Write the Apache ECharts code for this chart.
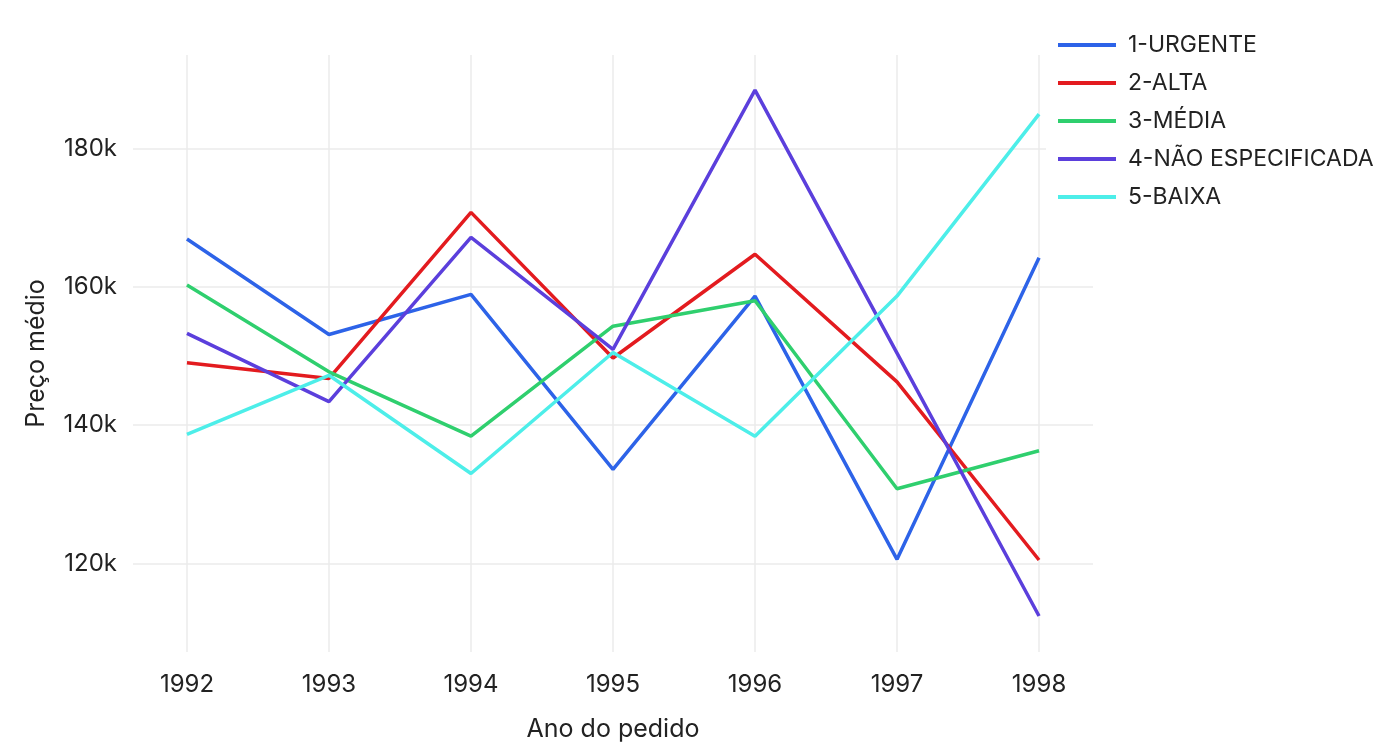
<!DOCTYPE html>
<html>
<head>
<meta charset="utf-8">
<script src="https://cdn.jsdelivr.net/npm/echarts@6/dist/echarts.min.js"></script>
<style>
  html, body { margin: 0; padding: 0; background: #fff; }
  #chart { width: 1384px; height: 752px; }
</style>
</head>
<body>
<div id="chart"></div>
<script>
const years = [1992, 1993, 1994, 1995, 1996, 1997, 1998];
const yTicks = [120000, 140000, 160000, 180000];
const seriesNames = ['1-URGENTE', '2-ALTA', '3-MÉDIA', '4-NÃO ESPECIFICADA', '5-BAIXA'];
const urgente = [166900, 153100, 158900, 133600, 158650, 120600, 164200];
const alta = [149000, 146750, 170750, 149700, 164700, 146250, 120500];
const media = [160250, 147700, 138400, 154300, 157970, 130800, 136300];
const naoEspecificada = [153250, 143400, 167130, 150940, 188430, 150400, 112400];
const baixa = [138650, 147200, 133000, 150500, 138400, 158650, 184960];
const seriesValues = [urgente, alta, media, naoEspecificada, baixa];
const colors = ['#2D63E8', '#E31B1F', '#2FCF6E', '#5B3FDC', '#4DEEE9'];

const chart = echarts.init(document.getElementById('chart'));
const font = 'Inter, "Noto Sans", sans-serif';

chart.setOption({
  animation: false,
  color: colors,
  grid: { left: 133, right: 291, top: 55, bottom: 100 },
  legend: {
    orient: 'vertical',
    left: 1046,
    top: 24,
    padding: [8, 12, 8, 12],
    backgroundColor: '#ffffff',
    icon: 'rect',
    itemWidth: 58,
    itemHeight: 4,
    itemGap: 12,
    z: 10,
    textStyle: { fontFamily: font, fontSize: 23, color: '#222', lineHeight: 26, padding: [0, 0, 0, 7] },
    data: seriesNames
  },
  xAxis: {
    type: 'value',
    min: 1991.62,
    max: 1998.38,
    name: 'Ano do pedido',
    nameLocation: 'middle',
    nameGap: 65,
    nameTextStyle: { fontFamily: font, fontSize: 25, color: '#222' },
    axisLine: { show: false },
    axisTick: { show: false, customValues: years },
    axisLabel: {
      customValues: years,
      margin: 21,
      fontFamily: font, fontSize: 24, color: '#222',
      formatter: v => String(v)
    },
    splitLine: { show: true, lineStyle: { color: '#ebebeb', width: 1.5 } }
  },
  yAxis: {
    type: 'value',
    min: 107200,
    max: 193500,
    name: 'Preço médio',
    nameLocation: 'middle',
    nameGap: 84,
    nameTextStyle: { fontFamily: font, fontSize: 25, color: '#222' },
    axisLine: { show: false },
    axisTick: { show: false, customValues: yTicks },
    axisLabel: {
      customValues: yTicks,
      margin: 16,
      fontFamily: font, fontSize: 24, color: '#222',
      formatter: v => (v / 1000) + 'k'
    },
    splitLine: { show: true, lineStyle: { color: '#ebebeb', width: 1.5 } }
  },
  series: seriesNames.map((name, i) => ({
    name: name,
    type: 'line',
    data: years.map((y, j) => [y, seriesValues[i][j]]),
    symbol: 'none',
    lineStyle: { width: 3.5, color: colors[i] },
    itemStyle: { color: colors[i] }
  }))
});
</script>
</body>
</html>
